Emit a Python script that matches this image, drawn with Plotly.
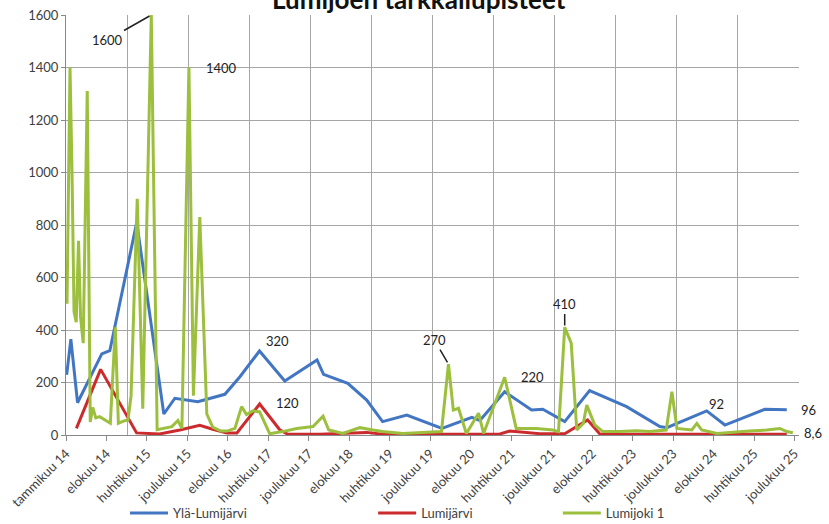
import pandas as pd
import plotly.graph_objects as go

# --- data ---
yla_dates = [
    "2014-01-05", "2014-01-30", "2014-03-11", "2014-08-03", "2014-09-20", "2015-02-28",
    "2015-08-09", "2015-10-14", "2016-02-28", "2016-05-10", "2016-08-08", "2016-11-06",
    "2017-03-03", "2017-08-01", "2018-02-10", "2018-03-21", "2018-08-13", "2018-12-04",
    "2019-03-09", "2019-08-01", "2020-02-27", "2020-08-24", "2020-10-11", "2021-03-08",
    "2021-08-16", "2021-10-22", "2022-03-02", "2022-07-29", "2023-03-07", "2023-09-22",
    "2023-11-03", "2024-06-28", "2024-10-15", "2025-06-10", "2025-10-20",
]
yla_values = [
    229, 365, 123, 309, 321, 810, 80, 140, 127, 140, 155, 222, 320, 206, 286, 231, 197, 133,
    51, 76, 25, 67, 55, 165, 95, 98, 51, 169, 108, 32, 28, 92, 38, 98, 96,
]

jarvi_dates = [
    "2014-03-04", "2014-07-27", "2015-02-27", "2015-07-15", "2015-11-13", "2016-03-11",
    "2016-05-27", "2016-08-20", "2016-10-19", "2017-03-04", "2017-07-02", "2017-08-19",
    "2018-02-27", "2018-12-04", "2019-03-09", "2020-02-15", "2021-02-08", "2021-04-07",
    "2021-10-04", "2022-03-02", "2022-07-17", "2022-09-28", "2023-07-22", "2024-05-17",
    "2025-03-11", "2025-10-20",
]
jarvi_values = [25, 250, 8, 4, 19, 37, 22, 8, 8, 118, 20, 3, 3, 10, 3, 3, 4, 15, 5, 5, 57, 4, 3, 4, 3, 3]

joki_dates = [
    "2014-01-07", "2014-01-25", "2014-02-06", "2014-02-18", "2014-03-03", "2014-03-17",
    "2014-03-29", "2014-04-14", "2014-05-08", "2014-05-26", "2014-06-10", "2014-06-28",
    "2014-07-21", "2014-08-15", "2014-09-08", "2014-09-23", "2014-10-23", "2014-11-10",
    "2014-12-07", "2015-01-07", "2015-01-25", "2015-03-03", "2015-04-05", "2015-05-26",
    "2015-06-30", "2015-08-09", "2015-09-26", "2015-11-01", "2015-11-25", "2016-01-06",
    "2016-02-02", "2016-03-11", "2016-04-22", "2016-05-27", "2016-07-15", "2016-08-20",
    "2016-10-07", "2016-11-16", "2016-12-15", "2017-01-23", "2017-03-04", "2017-05-03",
    "2017-07-19", "2017-10-12", "2018-01-17", "2018-03-18", "2018-04-21", "2018-07-14",
    "2018-10-24", "2019-01-10", "2019-03-09", "2019-07-07", "2019-10-17", "2020-02-24",
    "2020-04-06", "2020-05-05", "2020-06-05", "2020-07-22", "2020-10-03", "2020-11-02",
    "2021-03-08", "2021-05-16", "2021-07-15", "2021-09-14", "2021-12-21", "2022-01-24",
    "2022-03-02", "2022-04-10", "2022-05-13", "2022-06-21", "2022-07-12", "2022-08-29",
    "2022-10-16", "2023-01-26", "2023-05-06", "2023-07-23", "2023-10-30", "2023-12-03",
    "2024-01-02", "2024-03-31", "2024-04-30", "2024-05-29", "2024-08-28", "2024-12-26",
    "2025-03-11", "2025-06-22", "2025-09-08", "2025-10-20", "2025-11-25",
]
joki_values = [
    500, 1400, 1000, 470, 430, 740, 450, 350, 1310, 50, 105, 65, 70, 60, 50, 45, 410, 45,
    52, 58, 150, 900, 100, 1600, 20, 25, 32, 55, 25, 1400, 150, 830, 80, 30, 15, 15,
    25, 108, 78, 92, 88, 5, 13, 25, 32, 72, 19, 6, 28, 19, 13, 6, 9, 13,
    270, 95, 102, 6, 83, 6, 220, 25, 25, 25, 19, 13, 410, 350, 19, 44, 114, 38,
    13, 13, 16, 13, 19, 165, 25, 19, 44, 19, 6, 13, 15, 19, 25, 13, 8.6,
]

tick_labels = [
    "tammikuu 14", "elokuu 14", "huhtikuu 15", "joulukuu 15", "elokuu 16", "huhtikuu 17",
    "joulukuu 17", "elokuu 18", "huhtikuu 19", "joulukuu 19", "elokuu 20", "huhtikuu 21",
    "joulukuu 21", "elokuu 22", "huhtikuu 23", "joulukuu 23", "elokuu 24", "huhtikuu 25",
    "joulukuu 25",
]

BLUE = "#4276C2"
RED = "#CC2B2E"
GREEN = "#9CBF3E"
FONT = "Lato"
GRID = "#a6a6a6"
TXT = "#404040"

tick_dates = pd.date_range("2014-01-01", periods=len(tick_labels), freq="242D")
year_lines = [f"{y}-01-01" for y in range(2015, 2027)]

fig = go.Figure()
fig.add_trace(go.Scatter(x=yla_dates, y=yla_values, mode="lines", name="Ylä-Lumijärvi",
                         line=dict(color=BLUE, width=3), legend="legend"))
fig.add_trace(go.Scatter(x=jarvi_dates, y=jarvi_values, mode="lines", name="Lumijärvi",
                         line=dict(color=RED, width=3), legend="legend2"))
fig.add_trace(go.Scatter(x=joki_dates, y=joki_values, mode="lines", name="Lumijoki 1",
                         line=dict(color=GREEN, width=3), legend="legend3"))

# data labels
lab_font = dict(family=FONT, size=13, color="#222")


def point_label(x, y, text, ax=0, ay=0, line=False, xshift=0, yshift=0):
    if line:
        fig.add_annotation(x=x, y=y, text=text, showarrow=True, arrowhead=0, arrowwidth=1.5,
                           arrowcolor="#222", ax=ax, ay=ay, standoff=2, font=lab_font)
    else:
        fig.add_annotation(x=x, y=y, text=text, showarrow=False, xshift=xshift,
                           yshift=yshift, font=lab_font)


point_label("2015-05-26", 1600, "1600", ax=-44, ay=25, line=True)
point_label("2016-01-06", 1400, "1400", xshift=33)
point_label("2017-03-03", 320, "320", xshift=18, yshift=10)
point_label("2017-03-04", 118, "120", xshift=28, yshift=1)
point_label("2020-04-06", 270, "270", ax=-14, ay=-24, line=True)
point_label("2021-03-08", 220, "220", xshift=28)
point_label("2022-03-02", 410, "410", ax=0, ay=-23, line=True)
point_label("2024-06-28", 92, "92", xshift=10, yshift=7)
point_label("2025-10-20", 96, "96", xshift=22)
point_label("2025-11-25", 8.6, "8,6", xshift=20)

# title sits partly above the page edge, as in the source picture
fig.add_annotation(xref="paper", yref="paper", x=0.481, y=0.995, yanchor="bottom",
                   text="<b>Lumijoen tarkkailupisteet</b>", showarrow=False,
                   font=dict(family=FONT, size=26, color="#111"))

fig.update_xaxes(
    type="date", range=["2014-01-01", "2026-01-01"],
    tickmode="array", tickvals=tick_dates, ticktext=tick_labels, tickangle=-45,
    ticks="outside", ticklen=5, tickcolor="#888", showgrid=False,
    showline=True, linecolor="#888", linewidth=1,
    tickfont=dict(family=FONT, size=13, color=TXT),
    minor=dict(tickmode="array", tickvals=year_lines, showgrid=True,
               gridcolor=GRID, gridwidth=1, ticks=""),
    zeroline=False,
)
fig.update_yaxes(
    range=[0, 1600], tickmode="linear", dtick=200, tick0=0,
    showgrid=True, gridcolor=GRID, gridwidth=1,
    ticks="outside", ticklen=4, tickcolor="#888",
    showline=True, linecolor="#888", linewidth=1,
    tickfont=dict(family=FONT, size=13, color=TXT), zeroline=False,
)

leg = dict(orientation="h", yanchor="middle", y=-0.186, xanchor="left",
           font=dict(family=FONT, size=13, color=TXT), bgcolor="rgba(0,0,0,0)",
           itemwidth=38)
fig.update_layout(
    width=829, height=524,
    margin=dict(l=66, r=30, t=15, b=89, autoexpand=False),
    paper_bgcolor="white", plot_bgcolor="white",
    showlegend=True,
    legend={**leg, "x": 0.0805},
    legend2={**leg, "x": 0.419},
    legend3={**leg, "x": 0.671},
)

fig.write_html("out.html", config={"displayModeBar": False},
               post_script="document.body.style.margin='0';")
